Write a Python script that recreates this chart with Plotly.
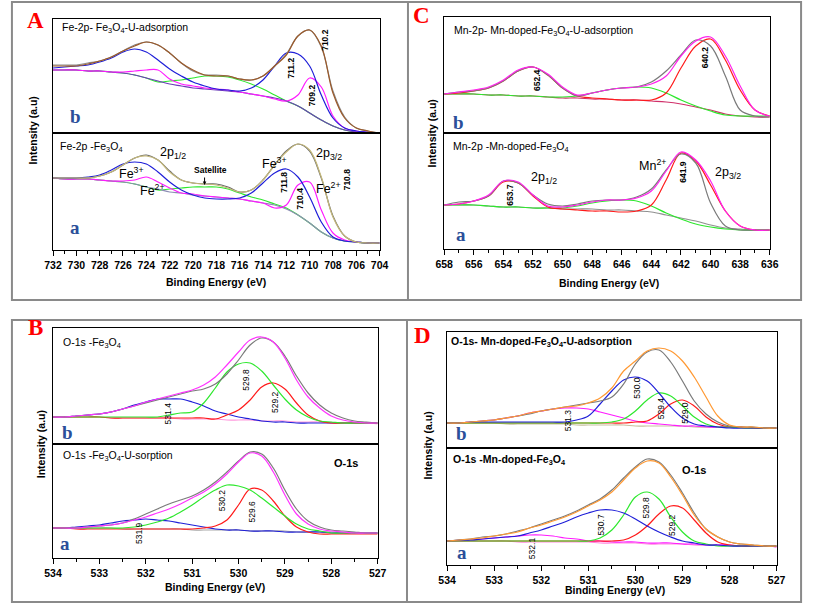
import plotly.graph_objects as go

W, H = 813, 605

# ---------------- energy grids ----------------
FE_E = [732, 731, 730, 729, 728, 727, 726, 725, 724, 723, 722, 721, 720, 719, 718,
        717, 716, 715, 714, 713, 712, 711, 710, 709, 708, 707, 706, 705, 704]
MN_E = [658, 657, 656, 655, 654, 653, 652, 651, 650, 649, 648, 647, 646, 645, 644,
        643, 642, 641, 640, 639, 638, 637, 636]
O_E = [534.0, 533.75, 533.5, 533.25, 533.0, 532.75, 532.5, 532.25, 532.0, 531.75,
       531.5, 531.25, 531.0, 530.75, 530.5, 530.25, 530.0, 529.75, 529.5, 529.25,
       529.0, 528.75, 528.5, 528.25, 528.0, 527.75, 527.5, 527.25, 527.0]

# ---------------- A(b): Fe-2p Fe3O4-U-adsorption ----------------
fe_u_env = [67, 67, 67, 69, 72, 76, 82, 87, 91, 88, 80, 70, 63, 58, 57, 57, 54, 53, 57, 67, 78, 97, 103, 87, 40, 15, 5, 2, 0]
fe_u_data = [68, 68, 68, 70, 72, 76, 82, 88, 91, 88, 80, 70, 62, 58, 58, 57, 54, 53, 57, 67, 79, 97, 103, 86, 42, 16, 5, 2, 0]
fe_u_fe3 = [65, 66, 67, 68, 71, 75, 81, 84, 81, 73, 64, 57, 51, 47, 44, 43, 42, 45, 53, 67, 80, 79, 67, 38, 15, 5, 2, 1, 0]
fe_u_fe2 = [63, 63, 63, 62, 62, 61, 61, 62, 63, 63, 54, 49, 47, 45, 44, 43, 41, 39, 37, 34, 32, 38, 55, 46, 17, 5, 2, 1, 0]
fe_u_sat = [63, 63, 63, 62, 62, 61, 60, 58, 55, 51, 52, 53, 55, 57, 57, 56, 53, 49, 44, 38, 32, 27, 20, 13, 7, 3, 1, 0, 0]
fe_u_bg = [63, 63, 63, 62, 62, 61, 60, 58, 55, 52, 49, 47, 45, 44, 43, 42, 41, 39, 37, 35, 32, 27, 20, 13, 7, 3, 1, 0, 0]

# ---------------- A(a): Fe-2p Fe3O4 ----------------
fe_env = [72, 72, 72, 72, 74, 78, 85, 92, 94, 90, 78, 70, 67, 66, 65, 62, 58, 60, 70, 85, 98, 106, 100, 73, 33, 14, 8, 7, 7]
fe_data = [72, 72, 72, 72, 74, 78, 85, 92, 95, 90, 79, 70, 67, 66, 66, 63, 58, 60, 70, 85, 99, 106, 99, 72, 34, 14, 8, 7, 7]
fe_fe3 = [72, 72, 72, 73, 75, 80, 86, 88, 86, 78, 68, 60, 55, 52, 51, 51, 52, 57, 67, 77, 81, 73, 53, 28, 13, 9, 8, 7, 7]
fe_fe2 = [72, 71, 71, 71, 70, 69, 69, 70, 73, 68, 62, 57, 56, 54, 53, 52, 51, 49, 47, 42, 45, 65, 68, 40, 17, 10, 8, 7, 7]
fe_sat = [72, 71, 71, 71, 70, 69, 68, 66, 63, 60, 61, 62, 63, 63, 63, 61, 57, 53, 50, 46, 42, 35, 27, 18, 12, 9, 8, 7, 7]
fe_bg = [72, 71, 71, 71, 70, 69, 68, 66, 63, 61, 58, 57, 55, 54, 53, 52, 51, 49, 47, 45, 41, 35, 27, 18, 12, 9, 8, 7, 7]

# ---------------- C(b): Mn-2p Mn-doped-Fe3O4-U-adsorption ----------------
mn_u_env = [39, 41, 43, 46, 53, 63, 66, 59, 46, 38, 40, 43, 45, 46, 49, 57, 77, 92, 96, 77, 47, 23, 17]
mn_u_data = [39, 41, 42, 45, 52, 62, 66, 58, 45, 37, 40, 43, 45, 46, 51, 62, 78, 93, 87, 57, 23, 17, 16]
mn_u_mn = [39, 40, 42, 45, 52, 62, 66, 58, 45, 37, 35, 34, 33, 33, 33, 40, 65, 87, 94, 73, 43, 23, 17]
mn_u_sat = [39, 39, 39, 38, 38, 37, 37, 36, 36, 37, 40, 43, 45, 46, 45, 40, 33, 27, 22, 18, 17, 17, 17]
mn_u_bg = [39, 39, 39, 38, 38, 37, 37, 36, 35, 35, 34, 34, 33, 33, 32, 31, 29, 26, 23, 19, 17, 16, 16]

# ---------------- C(a): Mn-2p Mn-doped-Fe3O4 ----------------
mn_env = [44, 45, 48, 54, 68, 67, 54, 43, 42, 44, 47, 49, 49, 51, 58, 78, 97, 89, 68, 38, 23, 19, 19]
mn_data = [44, 47, 48, 53, 68, 66, 54, 45, 43, 45, 48, 49, 49, 52, 60, 79, 95, 86, 46, 23, 19, 19, 19]
mn_mn = [44, 45, 48, 53, 67, 66, 53, 42, 40, 39, 38, 38, 37, 38, 44, 69, 96, 88, 64, 38, 23, 19, 19]
mn_sat = [44, 44, 44, 43, 42, 42, 41, 41, 41, 43, 46, 48, 49, 48, 43, 36, 30, 25, 22, 20, 19, 19, 19]
mn_bg = [44, 44, 44, 43, 42, 42, 41, 41, 40, 40, 40, 39, 39, 38, 37, 34, 31, 28, 24, 21, 20, 19, 19]

# ---------------- B(b): O-1s Fe3O4 ----------------
o_fe_env = [27, 27, 28, 29, 30, 32, 35, 38, 42, 45, 48, 51, 54, 59, 67, 79, 92, 104, 107, 102, 86, 64, 47, 36, 28, 24, 22, 21, 21]
o_fe_data = [27, 27, 28, 29, 30, 32, 35, 38, 41, 44, 47, 50, 53, 55, 60, 70, 84, 99, 106, 102, 88, 68, 51, 39, 31, 26, 23, 22, 21]
o_fe_298 = [27, 27, 27, 27, 27, 27, 27, 27, 27, 27, 29, 31, 32, 41, 56, 72, 80, 81, 73, 59, 45, 34, 27, 23, 22, 21, 21, 21, 21]
o_fe_292 = [27, 27, 27, 27, 27, 26, 26, 26, 26, 26, 26, 26, 26, 26, 25, 29, 34, 44, 57, 61, 55, 41, 29, 23, 21, 21, 21, 21, 21]
o_fe_314 = [27, 27, 28, 29, 30, 32, 35, 39, 42, 45, 45, 45, 42, 38, 33, 30, 27, 25, 23, 22, 22, 21, 21, 21, 21, 21, 21, 21, 21]
o_fe_bg = [27, 27, 27, 27, 27, 26, 26, 26, 26, 26, 26, 25, 25, 25, 25, 24, 24, 24, 23, 23, 23, 22, 22, 22, 21, 21, 21, 21, 20]

# ---------------- B(a): O-1s Fe3O4-U-sorption ----------------
o_feu_env = [30, 30, 30, 31, 32, 33, 35, 38, 41, 45, 49, 54, 60, 66, 74, 84, 96, 105, 102, 86, 63, 44, 34, 29, 27, 26, 25, 25, 25]
o_feu_data = [30, 30, 30, 31, 32, 33, 35, 39, 44, 49, 54, 58, 62, 68, 76, 86, 97, 106, 104, 90, 68, 49, 37, 31, 28, 27, 26, 25, 25]
o_feu_302 = [30, 30, 30, 30, 30, 30, 30, 31, 33, 36, 40, 46, 53, 61, 68, 73, 72, 68, 60, 51, 42, 34, 29, 27, 25, 25, 25, 25, 25]
o_feu_296 = [30, 30, 29, 29, 29, 29, 29, 29, 29, 29, 29, 29, 29, 30, 32, 38, 53, 69, 68, 57, 42, 31, 26, 24, 24, 24, 24, 24, 24]
o_feu_319 = [30, 30, 31, 32, 33, 35, 37, 38, 39, 38, 37, 35, 33, 31, 29, 28, 28, 27, 27, 27, 26, 26, 26, 26, 25, 25, 25, 25, 25]
o_feu_bg = [30, 30, 30, 30, 30, 30, 29, 29, 29, 29, 29, 29, 28, 28, 28, 28, 28, 27, 27, 27, 27, 26, 26, 26, 26, 25, 25, 25, 25]

# ---------------- D(b): O-1s Mn-doped-Fe3O4-U-adsorption ----------------
o_mnu_env = [25, 25, 26, 27, 28, 30, 32, 35, 37, 39, 41, 42, 45, 50, 60, 77, 87, 97, 100, 97, 87, 71, 51, 32, 23, 21, 21, 20, 20]
o_mnu_data = [25, 25, 26, 27, 28, 30, 32, 34, 37, 39, 41, 43, 45, 47, 51, 64, 84, 96, 98, 86, 67, 47, 34, 26, 22, 21, 21, 20, 20]
o_mnu_300 = [25, 25, 26, 26, 26, 26, 26, 26, 26, 26, 26, 28, 32, 44, 57, 68, 71, 67, 55, 41, 30, 24, 22, 21, 20, 20, 20, 20, 20]
o_mnu_294 = [25, 25, 25, 25, 25, 25, 25, 25, 25, 25, 25, 25, 25, 25, 26, 29, 37, 48, 55, 52, 42, 31, 24, 21, 21, 20, 20, 20, 20]
o_mnu_290 = [25, 25, 25, 25, 25, 25, 25, 25, 25, 25, 25, 25, 25, 25, 25, 25, 26, 27, 34, 44, 48, 42, 31, 24, 21, 21, 20, 20, 20]
o_mnu_313 = [25, 25, 26, 27, 28, 30, 32, 35, 37, 39, 40, 40, 39, 36, 33, 30, 27, 25, 24, 23, 22, 22, 21, 21, 21, 20, 20, 20, 20]
o_mnu_bg = [25, 25, 25, 25, 25, 24, 24, 24, 24, 24, 24, 23, 23, 23, 23, 23, 22, 22, 22, 22, 22, 21, 21, 21, 21, 21, 20, 20, 20]

# ---------------- D(a): O-1s Mn-doped-Fe3O4 ----------------
o_mn_env = [24, 25, 26, 27, 29, 31, 33, 37, 40, 44, 48, 53, 59, 65, 73, 85, 97, 104, 102, 88, 70, 50, 36, 28, 23, 21, 20, 19, 19]
o_mn_data = [24, 25, 26, 28, 29, 31, 34, 37, 41, 45, 49, 54, 60, 66, 75, 87, 98, 106, 103, 90, 72, 52, 36, 28, 23, 21, 20, 19, 19]
o_mn_307 = [24, 25, 25, 26, 27, 28, 29, 32, 35, 39, 43, 48, 52, 55, 55, 52, 46, 39, 33, 28, 24, 22, 20, 20, 19, 19, 19, 19, 19]
o_mn_298 = [24, 24, 24, 24, 24, 24, 24, 24, 24, 24, 24, 24, 24, 27, 35, 50, 68, 73, 66, 48, 33, 24, 21, 19, 19, 19, 19, 19, 19]
o_mn_292 = [24, 24, 24, 24, 24, 24, 24, 24, 24, 24, 24, 24, 24, 24, 24, 25, 30, 39, 51, 59, 57, 45, 32, 23, 20, 19, 19, 19, 19]
o_mn_321 = [24, 24, 25, 26, 27, 28, 29, 30, 30, 29, 27, 26, 24, 24, 23, 23, 23, 22, 22, 22, 21, 21, 20, 20, 20, 19, 19, 19, 18]
o_mn_bg = [24, 24, 24, 24, 24, 24, 23, 23, 23, 23, 23, 23, 23, 22, 22, 22, 22, 21, 21, 21, 21, 20, 20, 20, 20, 19, 19, 19, 18]

# ---------------- styles ----------------
GRAY = '#7a7a7a'
BLUE = '#1f1fd8'
MAG = '#ff1aff'
GREEN = '#2ee82e'
RED = '#ff1a1a'
SANS = 'Liberation Sans, Arial, sans-serif'
SERIF = 'Liberation Serif, Times New Roman, serif'


def fx(px):
    return px / W


def fy(py):
    return 1 - py / H


subplots = [
    (FE_E, (45, 379), (19, 133), [732, 704], 114, False, 2, 1, 704,
     [(fe_u_sat, GREEN), (fe_u_bg, '#6a3db8'), (fe_u_fe2, MAG), (fe_u_fe3, BLUE),
      (fe_u_data, '#8a8a8a'), (fe_u_env, '#9c5a2a')]),
    (FE_E, (45, 379), (133, 250), [732, 704], 117, True, 2, 1, 704,
     [(fe_sat, GREEN), (fe_bg, '#8c8cb4'), (fe_fe2, MAG), (fe_fe3, BLUE),
      (fe_data, '#6a6a6a'), (fe_env, '#c4b87a')]),
    (MN_E, (445, 778), (17, 133), [658, 636], 116, False, 2, 1, 636,
     [(mn_u_bg, '#d0306a'), (mn_u_sat, GREEN), (mn_u_mn, RED), (mn_u_data, GRAY),
      (mn_u_env, '#ff22ee')]),
    (MN_E, (445, 778), (133, 249), [658, 636], 116, True, 2, 1, 636,
     [(mn_bg, '#909090'), (mn_sat, GREEN), (mn_mn, RED), (mn_data, GRAY),
      (mn_env, '#ff22ee')]),
    (O_E, (45, 377), (328, 444), [534, 527], 116, False, 1, 0.5, 527,
     [(o_fe_bg, '#ff99dd'), (o_fe_314, BLUE), (o_fe_292, RED), (o_fe_298, GREEN),
      (o_fe_data, GRAY), (o_fe_env, '#ff33ff')]),
    (O_E, (45, 377), (444, 558), [534, 527], 114, True, 1, 0.5, 527,
     [(o_feu_bg, '#a8a8a8'), (o_feu_319, BLUE), (o_feu_296, RED), (o_feu_302, GREEN),
      (o_feu_data, GRAY), (o_feu_env, '#ff33ff')]),
    (O_E, (448, 785), (332, 448), [534, 527], 116, False, 1, 0.5, 527,
     [(o_mnu_bg, '#c8c0a0'), (o_mnu_313, MAG), (o_mnu_290, RED), (o_mnu_294, GREEN),
      (o_mnu_300, BLUE), (o_mnu_data, GRAY), (o_mnu_env, '#ff9933')]),
    (O_E, (448, 785), (448, 565), [534, 527], 117, True, 1, 0.5, 527,
     [(o_mn_bg, '#ff88dd'), (o_mn_321, MAG), (o_mn_292, RED), (o_mn_298, GREEN),
      (o_mn_307, BLUE), (o_mn_data, GRAY), (o_mn_env, '#ff9933')]),
]

fig = go.Figure()
layout = {}
for i, (grid, xpx, ypx, xr, yh, bottom, dt, mdt, t0, series) in enumerate(subplots, start=1):
    xn = 'x' if i == 1 else f'x{i}'
    yn = 'y' if i == 1 else f'y{i}'
    for vals, col in series:
        fig.add_trace(go.Scatter(x=grid, y=vals, xaxis=xn, yaxis=yn, mode='lines',
                                 line=dict(color=col, width=1.2, shape='spline', smoothing=1.0),
                                 showlegend=False, hoverinfo='skip'))
    xa = dict(domain=[fx(xpx[0]), fx(xpx[1])], range=xr, anchor=yn,
              showline=True, mirror=True, linecolor='black', linewidth=1,
              showgrid=False, zeroline=False, fixedrange=True)
    if bottom:
        xa.update(ticks='outside', ticklen=5, tickwidth=1, tickcolor='black',
                  dtick=dt, tick0=t0, showticklabels=True,
                  tickfont=dict(family=SANS, size=10.5, color='black', weight='bold'),
                  minor=dict(ticks='outside', ticklen=3, tickwidth=1, tickcolor='black',
                             dtick=mdt, tick0=t0, showgrid=False))
    else:
        xa.update(ticks='', showticklabels=False)
    ya = dict(domain=[fy(ypx[1]), fy(ypx[0])], range=[0, yh], anchor=xn,
              showline=True, mirror=True, linecolor='black', linewidth=1,
              showgrid=False, zeroline=False, ticks='', showticklabels=False,
              fixedrange=True)
    layout['xaxis' if i == 1 else f'xaxis{i}'] = xa
    layout['yaxis' if i == 1 else f'yaxis{i}'] = ya

anns = []


def ann(text, x, y, size=10.5, color='black', bold=False, family=SANS, angle=0, xanchor='center'):
    anns.append(dict(text=text, x=fx(x), y=fy(y), xref='paper', yref='paper',
                     xanchor=xanchor, yanchor='middle', showarrow=False, textangle=angle,
                     font=dict(family=family, size=size, color=color,
                               weight='bold' if bold else 'normal')))


LET = '#ff0000'
SUB = '#2b4f9a'

ann('A', 27, 20, 23, LET, True, SERIF)
ann('C', 422, 15, 23, LET, True, SERIF)
ann('B', 27, 328, 23, LET, True, SERIF)
ann('D', 423, 335, 23, LET, True, SERIF)
for t, x, y in [('b', 68, 117), ('a', 67, 228), ('b', 460, 122), ('a', 462, 234),
                ('b', 60, 432), ('a', 57, 543), ('b', 463, 433), ('a', 463, 552)]:
    ann(t, x, y, 19, SUB, True, SERIF)

for x, y in [(25, 130), (433, 133), (33, 444), (428, 446)]:
    ann('Intensity (a.u)', x, y, 10.5, bold=True, angle=-90)
for x, y in [(212, 282), (614, 283), (211, 587), (620, 590)]:
    ann('Binding Energy (eV)', x, y, 10.5, bold=True)

ann('Fe-2p- Fe<sub>3</sub>O<sub>4</sub>-U-adsorption', 52, 28, 10.5, xanchor='left')
ann('Fe-2p -Fe<sub>3</sub>O<sub>4</sub>', 50, 147, 10.5, xanchor='left')
ann('2p<sub>1/2</sub>', 152, 153, 12.5, xanchor='left')
ann('Fe<sup>3+</sup>', 110, 173, 12.5, xanchor='left')
ann('Fe<sup>2+</sup>', 132, 190, 12.5, xanchor='left')
ann('Fe<sup>3+</sup>', 257, 163, 12.5, xanchor='left')
ann('2p<sub>3/2</sub>', 312, 154, 12.5, xanchor='left')
ann('Fe<sup>2+</sup>', 312, 188, 12.5, xanchor='left')
ann('Satellite', 206, 170, 8.5, bold=True)
anns.append(dict(text='', x=fx(200), y=fy(185), xref='paper', yref='paper', showarrow=True,
                 ax=0, ay=-9, arrowhead=2, arrowsize=0.7, arrowwidth=1, arrowcolor='black'))
for t, x, y in [('710.2', 323, 40), ('711.2', 288, 68), ('709.2', 310, 95),
                ('711.8', 281, 182), ('710.4', 298, 198), ('710.8', 346, 179)]:
    ann(t, x, y, 8.5, bold=True, angle=-90)

ann('Mn-2p- Mn-doped-Fe<sub>3</sub>O<sub>4</sub>-U-adsorption', 453, 31, 10.5, xanchor='left')
ann('Mn-2p -Mn-doped-Fe<sub>3</sub>O<sub>4</sub>', 452, 147, 10.5, xanchor='left')
ann('2p<sub>1/2</sub>', 532, 178, 12.5, xanchor='left')
ann('Mn<sup>2+</sup>', 642, 165, 12.5, xanchor='left')
ann('2p<sub>3/2</sub>', 720, 173, 12.5, xanchor='left')
for t, x, y in [('652.4', 540, 80), ('640.2', 712, 57), ('653.7', 512, 195), ('641.9', 689, 172)]:
    ann(t, x, y, 8.5, bold=True, angle=-90)

ann('O-1s -Fe<sub>3</sub>O<sub>4</sub>', 53, 343, 10.5, xanchor='left')
ann('O-1s -Fe<sub>3</sub>O<sub>4</sub>-U-sorption', 53, 456, 10.5, xanchor='left')
ann('O-1s', 345, 463, 11, bold=True)
for t, x, y in [('529.8', 242, 380), ('529.2', 272, 402), ('531.4', 163, 413),
                ('530.2', 218, 500), ('529.6', 248, 512), ('531.9', 133, 533)]:
    ann(t, x, y, 8.5, angle=-90)

ann('O-1s- Mn-doped-Fe<sub>3</sub>O<sub>4</sub>-U-adsorption', 450, 342, 10.5, bold=True, xanchor='left')
ann('O-1s -Mn-doped-Fe<sub>3</sub>O<sub>4</sub>', 452, 460, 10.5, bold=True, xanchor='left')
ann('O-1s', 701, 470, 11, bold=True)
for t, x, y in [('530.0', 642, 388), ('529.4', 667, 408), ('529.0', 691, 413), ('531.3', 572, 420),
                ('529.8', 651, 508), ('529.2', 678, 525), ('530.7', 605, 525), ('532.1', 535, 548)]:
    ann(t, x, y, 8.5, angle=-90)

BOX = '#8a8a8a'
shapes = [
    dict(type='rect', xref='paper', yref='paper', x0=fx(3), x1=fx(810), y0=fy(300), y1=fy(2),
         line=dict(color=BOX, width=2)),
    dict(type='line', xref='paper', yref='paper', x0=fx(408), x1=fx(408), y0=fy(300), y1=fy(2),
         line=dict(color=BOX, width=2)),
    dict(type='rect', xref='paper', yref='paper', x0=fx(3), x1=fx(810), y0=fy(602), y1=fy(320),
         line=dict(color=BOX, width=2)),
    dict(type='line', xref='paper', yref='paper', x0=fx(407), x1=fx(407), y0=fy(602), y1=fy(320),
         line=dict(color=BOX, width=2)),
]

fig.update_layout(width=W, height=H, autosize=False, margin=dict(l=0, r=0, t=0, b=0),
                  paper_bgcolor='white', plot_bgcolor='white',
                  annotations=anns, shapes=shapes, showlegend=False, **layout)

PAGE_FIX = ("document.documentElement.style.margin='0';document.documentElement.style.padding='0';"
            "document.documentElement.style.overflow='hidden';"
            "document.body.style.margin='0';document.body.style.padding='0';"
            "document.body.style.overflow='hidden';")

fig.write_html('out.html', config={'displayModeBar': False, 'responsive': False},
               post_script=PAGE_FIX)
